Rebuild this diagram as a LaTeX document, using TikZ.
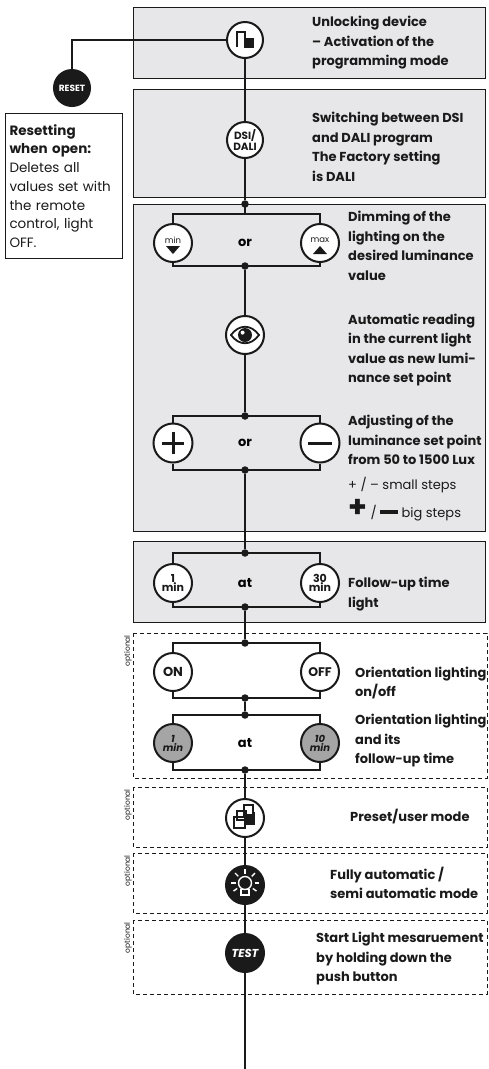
\documentclass[tikz,border=0pt]{standalone}
\usepackage{fontspec}
\setmainfont{Poppins}
\usetikzlibrary{shapes,positioning,calc}
\usetikzlibrary{arrows.meta}
\definecolor{grigiobox}{RGB}{231,231,233}
\definecolor{grigiotasto}{RGB}{165,165,165}
\definecolor{nero}{RGB}{26,26,26}
\tikzstyle{riquadro} = [draw=nero, line width=1pt, fill=grigiobox]
\tikzstyle{opzionale} = [draw=nero, line width=1pt, dash pattern=on 4pt off 3pt]
\tikzstyle{tasto} = [circle, draw=nero, line width=2pt, fill=white, minimum size=36pt, inner sep=0pt, text=nero, font=\bfseries]
\tikzstyle{tastonero} = [tasto, fill=nero, text=white]
\tikzstyle{tastogrigio} = [tasto, fill=grigiotasto]
\tikzstyle{linea} = [line width=2.8pt, draw=nero]
\tikzstyle{punto} = [circle, fill=nero, inner sep=0pt, minimum size=7.5pt]
\tikzstyle{testo} = [anchor=west, align=left, inner sep=0pt, text=nero, font=\fontsize{13}{19.5}\selectfont\bfseries]
\tikzstyle{nota} = [rotate=90, anchor=south east, inner sep=1pt, text=nero, font=\fontsize{7.5}{7.5}\selectfont]

\begin{document}
\begin{tikzpicture}[x=1pt,y=-1pt]
\useasboundingbox (0,0) rectangle (489,1069);
% riquadri
\draw[riquadro] (133,7) rectangle (485,78);
\draw[riquadro] (133,89) rectangle (485,197);
\draw[riquadro] (133,204) rectangle (485,531);
\draw[riquadro] (133,541) rectangle (485,622);
\draw[opzionale] (133,633) rectangle (487,778);
\draw[opzionale] (133,787) rectangle (487,847);
\draw[opzionale] (133,853) rectangle (487,913);
\draw[opzionale] (133,920) rectangle (487,994);
\node (opz1) [nota] at (133,634) {optional};
\node (opz2) [nota] at (133,788) {optional};
\node (opz3) [nota] at (133,854) {optional};
\node (opz4) [nota] at (133,921) {optional};

% tasti
\node (blocco) [tasto] at (245,40) {};
\node (reset) [tastonero, font=\fontsize{9}{9}\selectfont\bfseries] at (72,88) {RESET};
\node (dsi) [tasto, align=center, font=\fontsize{10.5}{9}\selectfont\bfseries] at (245,140) {DSI/\\DALI};
\node (minimo) [tasto, minimum size=38pt, font=\fontsize{8.5}{8.5}\selectfont] at (173,243) {\raisebox{6pt}{min}};
\node (massimo) [tasto, minimum size=38pt, font=\fontsize{8.5}{8.5}\selectfont] at (320,243) {\raisebox{6pt}{max}};
\node (occhio) [tasto, minimum size=38pt] at (245,335) {};
\node (piu) [tasto, minimum size=39pt] at (173,443) {};
\node (meno) [tasto, minimum size=39pt] at (320,443) {};
\node (min1) [tasto, minimum size=38pt, align=center, font=\fontsize{11}{9}\selectfont\bfseries] at (173,583) {1\\min};
\node (min30) [tasto, minimum size=38pt, align=center, font=\fontsize{11}{9}\selectfont\bfseries] at (320,583) {30\\min};
\node (on) [tasto, minimum size=38pt, font=\fontsize{13}{13}\selectfont\bfseries] at (173,672) {ON};
\node (off) [tasto, minimum size=38pt, font=\fontsize{12.5}{12.5}\selectfont\bfseries] at (320,672) {OFF};
\node (or1) [tastogrigio, minimum size=38pt, align=center, font=\fontsize{10}{9}\selectfont\bfseries\itshape] at (173,743) {1\\min};
\node (or10) [tastogrigio, minimum size=38pt, align=center, font=\fontsize{10}{9}\selectfont\bfseries\itshape] at (320,743) {10\\min};
\node (preset) [tasto, minimum size=38pt] at (245,818) {};
\node (auto) [tastonero, minimum size=38pt] at (245,885) {};
\node (test) [tastonero, minimum size=38pt, font=\fontsize{11.5}{11.5}\selectfont\bfseries\itshape] at (245,953) {TEST};

\node at (245,243) [font=\fontsize{13}{13}\selectfont\bfseries] (o1) {or};
\node at (245,443) [font=\fontsize{13}{13}\selectfont\bfseries] (o2) {or};
\node at (245,583) [font=\fontsize{13}{13}\selectfont\bfseries] (a1) {at};
\node at (245,743) [font=\fontsize{13}{13}\selectfont\bfseries] (a2) {at};

% punti e snodi
\node (p1) [punto] at (245,204) {};
\coordinate (mmA) at (245,214);
\node (mmB) [punto] at (245,266) {};
\node (pmA) [punto] at (245,416) {};
\node (pmB) [punto] at (245,470) {};
\node (fuA) [punto] at (245,553) {};
\node (fuB) [punto] at (245,607) {};
\node (onA) [punto] at (245,643) {};
\node (onB) [punto] at (245,698) {};
\node (orA) [punto] at (245,715) {};
\node (orB) [punto] at (245,770) {};
\coordinate (fine) at (245,1069);

% collegamenti
\draw[linea] (blocco.west) -| (reset);
\draw[linea] (blocco) -- (dsi);
\draw[linea] (dsi) -- (p1);
\draw[linea] (p1.center) -- (mmA);
\draw[linea] (mmA) -| (minimo);
\draw[linea] (mmA) -| (massimo);
\draw[linea] (mmB.center) -| (minimo);
\draw[linea] (mmB.center) -| (massimo);
\draw[linea] (mmB) -- (occhio);
\draw[linea] (occhio) -- (pmA);
\draw[linea] (pmA.center) -| (piu);
\draw[linea] (pmA.center) -| (meno);
\draw[linea] (pmB.center) -| (piu);
\draw[linea] (pmB.center) -| (meno);
\draw[linea] (pmB) -- (fuA);
\draw[linea] (fuA.center) -| (min1);
\draw[linea] (fuA.center) -| (min30);
\draw[linea] (fuB.center) -| (min1);
\draw[linea] (fuB.center) -| (min30);
\draw[linea] (fuB) -- (onA);
\draw[linea] (onA.center) -| (on);
\draw[linea] (onA.center) -| (off);
\draw[linea] (onB.center) -| (on);
\draw[linea] (onB.center) -| (off);
\draw[linea] (onB) -- (orA);
\draw[linea] (orA.center) -| (or1);
\draw[linea] (orA.center) -| (or10);
\draw[linea] (orB.center) -| (or1);
\draw[linea] (orB.center) -| (or10);
\draw[linea] (orB) -- (preset);
\draw[linea] (preset) -- (auto);
\draw[linea] (auto) -- (test);
\draw[linea] (test) -- (fine);

% simboli
\begin{scope}[shift={(blocco)}]
\draw[nero, line width=1.6pt] (-8,7) -- (-8,-8) -- (0,-8) -- (0,-2);
\fill[nero] (-0.8,-2) rectangle (9,8);
\end{scope}
\fill[nero] ([shift={(-7,3)}]minimo.center) -- ++(14,0) -- ++(-7,8) -- cycle;
\fill[nero] ([shift={(-7,11)}]massimo.center) -- ++(14,0) -- ++(-7,-8) -- cycle;
\begin{scope}[shift={(occhio)}]
\draw[nero, line width=1.8pt] (-14,0) .. controls (-6,-11) and (6,-11) .. (14,0) .. controls (6,11) and (-6,11) .. (-14,0) -- cycle;
\fill[nero] (0,0) circle (7);
\fill[white] (-2.4,-2.4) circle (2);
\end{scope}
\draw[nero, line width=3pt] ([xshift=-11pt]piu.center) -- ([xshift=11pt]piu.center)
  ([yshift=-11pt]piu.center) -- ([yshift=11pt]piu.center);
\draw[nero, line width=3pt] ([xshift=-12pt]meno.center) -- ([xshift=12pt]meno.center);
\begin{scope}[shift={(preset)}]
\fill[nero] (1,-6) rectangle (10,7);
\draw[nero, line width=1.4pt, fill=white] (-1,-13) rectangle (8,-3);
\draw[nero, line width=1.4pt, fill=white] (-11,-1) rectangle (0,10);
\draw[nero, line width=1.4pt] (-8,-7) rectangle (1,2);
\end{scope}
\begin{scope}[shift={(auto)}]
\draw[white, line width=1.4pt] (0,-2) circle (6.5);
\draw[white, line width=1.4pt] (-4,4.5) rectangle (4,10);
\foreach \a in {-90,-45,-135,0,180,35,145}
  \draw[white, line width=1.4pt] ($(0,-2)+(\a:9.5)$) -- ($(0,-2)+(\a:14)$);
\end{scope}

% testi
\node (t1) [testo] at (312,43) {Unlocking device\\– Activation of the\\programming mode};
\node (t2) [testo] at (312,147) {Switching between DSI\\and DALI program\\The Factory setting\\is DALI};
\node (t3) [testo] at (348,246) {Dimming of the\\lighting on the\\desired luminance\\value};
\node (t4) [testo] at (348,350) {Automatic reading\\in the current light\\value as new lumi-\\nance set point};
\node (t5) [testo] at (348,440) {Adjusting of the\\luminance set point\\from 50 to 1500 Lux};
\node (t6) [testo, font=\fontsize{13}{19}\selectfont] at (348,485) {+ / – small steps};
\node (t7) [testo, font=\fontsize{13}{19}\selectfont] at (348,510) {{\fontsize{30}{20}\selectfont\bfseries +} / \rule[3.5pt]{18pt}{3.4pt} big steps};
\node (t8) [testo] at (348,594) {Follow-up time\\light};
\node (t9) [testo] at (355,683) {Orientation lighting\\on/off};
\node (t10) [testo] at (355,741) {Orientation lighting\\and its\\follow-up time};
\node (t11) [testo] at (350,817) {Preset/user mode};
\node (t12) [testo] at (330,883) {Fully automatic /\\semi automatic mode};
\node (t13) [testo] at (316,959) {Start Light mesaruement\\by holding down the\\push button};
\node (avviso) [draw=nero, line width=1pt, anchor=north west, text width=109pt, inner xsep=4pt, minimum height=145pt, align=left, text=nero, font=\fontsize{13.5}{18.7}\selectfont] at (5,113)
  {\textbf{Resetting}\\\textbf{when open:}\\Deletes all\\values set with\\the remote\\control, light\\OFF.};
\end{tikzpicture}
\end{document}
